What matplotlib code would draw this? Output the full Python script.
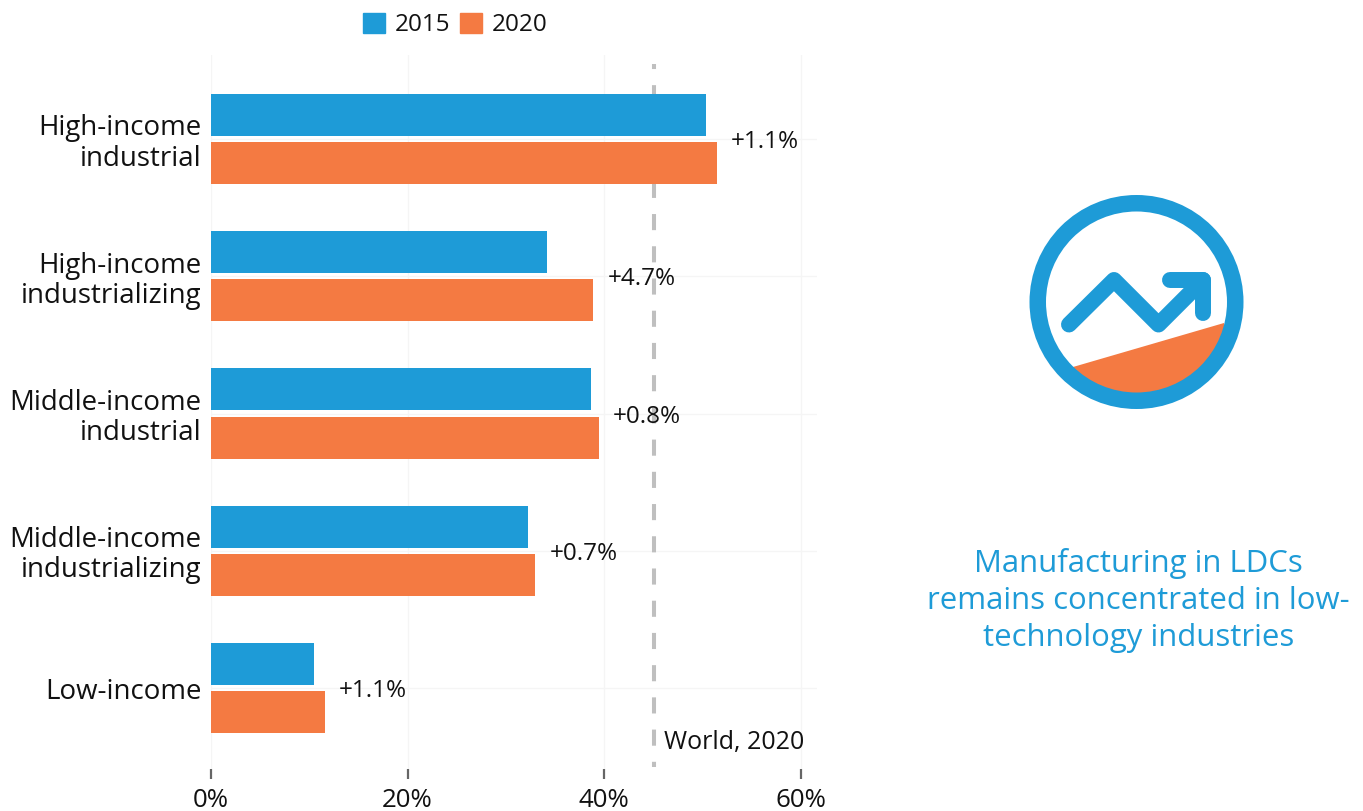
import matplotlib
matplotlib.use('Agg')
import matplotlib.pyplot as plt
from matplotlib.patches import Circle, Polygon, Patch

groups = ['High-income\nindustrial', 'High-income\nindustrializing', 'Middle-income\nindustrial',
          'Middle-income\nindustrializing', 'Low-income']
share_2015 = [50.4, 34.2, 38.7, 32.3, 10.5]
share_2020 = [51.5, 38.9, 39.5, 33.0, 11.6]
changes = ['+1.1%', '+4.7%', '+0.8%', '+0.7%', '+1.1%']
xticks = [0, 20, 40, 60]
world_2020 = 45.05

blue = '#1e9bd7'
orange = '#f47a42'
ink = '#111111'
W, H = 1363, 811

plt.rcParams['font.family'] = ['Open Sans', 'DejaVu Sans']

fig = plt.figure(figsize=(W / 100, H / 100), dpi=100)
ax = fig.add_axes([211 / W, 1 - 769 / H, (817 - 211) / W, (769 - 55) / H])
ax.set_xlim(0, 61.65)
ax.set_ylim(4.59, -0.612)

ypos = list(range(len(groups)))
ax.barh([y - 0.175 for y in ypos], share_2015, height=0.306, color=blue, zorder=3)
ax.barh([y + 0.175 for y in ypos], share_2020, height=0.306, color=orange, zorder=3)

# world reference line sits behind the bars
ax.plot([world_2020, world_2020], [-0.547, 4.575], color='#bfbfbf', lw=2.9,
        ls=(2.75, (4, 4)), zorder=2)
ax.text(46.05, 4.395, 'World, 2020', fontsize=18, color=ink, va='center', ha='left')

for y, a, b, lab in zip(ypos, share_2015, share_2020, changes):
    ax.annotate(lab, (max(a, b), y), xytext=(10, -2.2), textcoords='offset points',
                fontsize=17.5, color=ink, va='center', ha='left', zorder=4)

ax.set_xticks(xticks)
ax.set_xticklabels([f'{v}%' for v in xticks], fontsize=18.6, color=ink)
ax.set_yticks(ypos)
ax.set_yticklabels(groups, fontsize=19.9, color=ink, linespacing=1.1, ha='right')
ax.tick_params(axis='y', length=0, pad=7)
ax.tick_params(axis='x', length=7.5, width=1.6, color='#666666', pad=6.5)
ax.grid(True, color='#f5f5f5', lw=1, zorder=0)
for s in ax.spines.values():
    s.set_visible(False)

ax.legend(handles=[Patch(color=blue, label='2015'), Patch(color=orange, label='2020')],
          ncol=2, frameon=False, fontsize=17.5, handlelength=0.87, handleheight=0.87,
          handletextpad=0.42, columnspacing=0.42, loc='center',
          bbox_to_anchor=(455.5 / W, 1 - 25 / H), bbox_transform=fig.transFigure,
          labelcolor=ink, borderpad=0, borderaxespad=0)

# icon and side note, laid out in pixel units
deco = fig.add_axes([0, 0, 1, 1])
deco.set_xlim(0, W)
deco.set_ylim(H, 0)
deco.axis('off')
deco.patch.set_alpha(0)

cx, cy = 1136.5, 302
disc = Circle((cx, cy), 92, transform=deco.transData)
wedge = Polygon([(1073, 367), (1224, 323), (1260, 430), (1040, 430)], color=orange, lw=0)
deco.add_patch(wedge)
wedge.set_clip_path(disc)
deco.add_patch(Circle((cx, cy), 98.75, fill=False, ec=blue, lw=16.5 * 0.72))
deco.plot([1069, 1114, 1158.5, 1203], [324.5, 280, 324.5, 280], color=blue, lw=11.5,
          solid_capstyle='round', solid_joinstyle='round')
deco.plot([1170, 1203, 1203], [280, 280, 312.5], color=blue, lw=11.5,
          solid_capstyle='round', solid_joinstyle='round')

deco.text(1138.5, 600.5, 'Manufacturing in LDCs\nremains concentrated in low-\ntechnology industries',
          color=blue, fontsize=22.4, ha='center', va='center', linespacing=1.31)

fig.savefig('out.png', dpi=100)
